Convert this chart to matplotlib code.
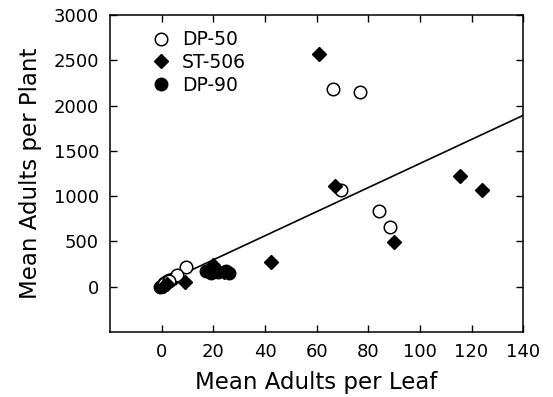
import numpy as np
import matplotlib
matplotlib.use('Agg')
import matplotlib.pyplot as plt

# DP-50 (open circles)
dp50_x = [66.5, 77.0, 69.5, 84.0, 88.5, 9.5, 6.0, 1.0, 3.0]
dp50_y = [2185, 2150, 1065, 835, 660, 220, 130, 30, 60]

# ST-506 (filled diamonds)
st506_x = [61.0, 67.0, 90.0, 115.5, 124.0, 42.5, 20.0, 24.0, 9.0, 1.0, 2.0]
st506_y = [2565, 1110, 495, 1220, 1070, 275, 240, 165, 50, 10, 30]

# DP-90 (filled circles)
dp90_x = [0.0, 0.5, 1.0, 2.0, 3.0, 4.0, -0.5, 17.0, 19.0, 22.0, 25.0, 26.0]
dp90_y = [5, 20, 40, 60, 70, 85, 0, 170, 150, 160, 170, 150]

# regression line
fit_a, fit_b = 30, 13.3
fit_x = [0, 140]

plt.rcParams['font.family'] = 'DejaVu Sans'

fig = plt.figure(figsize=(5.53, 3.97), dpi=100)
ax = fig.add_axes([0.199, 0.164, 0.747, 0.798])

ax.plot(fit_x, [fit_a + fit_b * v for v in fit_x], color='black', lw=1.2, zorder=1)

ax.plot(dp50_x, dp50_y, 'o', ms=9, mfc='white', mec='black', mew=1.1,
        ls='none', label='DP-50', zorder=3)
ax.plot(st506_x, st506_y, 'D', ms=6.8, color='black',
        ls='none', label='ST-506', zorder=3)
ax.plot(dp90_x, dp90_y, 'o', ms=9, color='black',
        ls='none', label='DP-90', zorder=2)

ax.set_xlim(-20, 140)
ax.set_ylim(-500, 3000)
ax.set_xticks(np.arange(0, 141, 20))
ax.set_yticks(np.arange(0, 3001, 500))

ax.tick_params(direction='in', length=5, width=1, top=True, right=True,
               labelsize=13)
ax.tick_params(axis='x', pad=8)
ax.tick_params(axis='y', pad=8)
for s in ax.spines.values():
    s.set_linewidth(1.1)

ax.set_xlabel('Mean Adults per Leaf', fontsize=16.5, labelpad=7)
ax.set_ylabel('Mean Adults per Plant', fontsize=16.5, labelpad=8)

ax.legend(loc='upper left', frameon=False, fontsize=13.5, handletextpad=0.45,
          labelspacing=0.2, borderaxespad=0.0, bbox_to_anchor=(0.077, 0.97),
          borderpad=0.3, handlelength=1.4)

fig.savefig('out.png', dpi=100)
